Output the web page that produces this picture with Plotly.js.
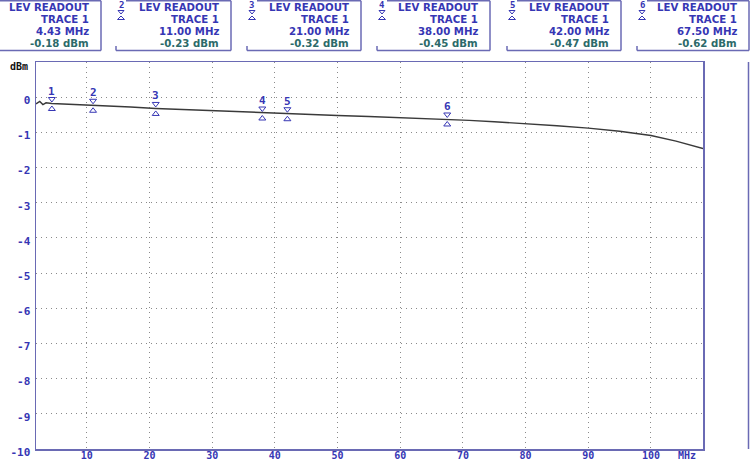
<!DOCTYPE html>
<html>
<head>
<meta charset="utf-8">
<script src="https://cdn.plot.ly/plotly-3.0.1.min.js"></script>
<style>
  html, body { margin: 0; padding: 0; background: #fff; }
  #plot { width: 750px; height: 465px; }
</style>
</head>
<body>
<div id="plot"></div>
<script>
// Trace (MHz / dBm).
const traceFreqs = [1.9, 2.5, 3.0, 3.5, 4.43, 6, 8, 11, 14, 17, 21, 25, 30, 34, 38, 42, 46, 50, 55, 60, 64, 67.5, 71, 75, 80, 85, 90, 95, 100, 104, 108.3];
const traceLevels = [-0.19, -0.12, -0.21, -0.16, -0.18, -0.19, -0.21, -0.23, -0.26, -0.28, -0.32, -0.35, -0.39, -0.42, -0.45, -0.47, -0.50, -0.52, -0.55, -0.58, -0.60, -0.62, -0.66, -0.70, -0.75, -0.81, -0.88, -0.97, -1.09, -1.25, -1.46];

// Level readout markers.
const markerFreqs = [4.43, 11.00, 21.00, 38.00, 42.00, 67.50];
const markerLevels = [-0.18, -0.23, -0.32, -0.45, -0.47, -0.62];

const xTickVals = [10, 20, 30, 40, 50, 60, 70, 80, 90, 100];
const xTickText = ['10', '20', '30', '40', '50', '60', '70', '80', '90', '100'];
const yTickVals = [0, -1, -2, -3, -4, -5, -6, -7, -8, -9, -10];
const yTickText = ['0', '-1', '-2', '-3', '-4', '-5', '-6', '-7', '-8', '-9', '-10'];

const mono = 'DejaVu Sans Mono';
const sans = 'DejaVu Sans';
const blue = '#3636b4';
const teal = '#2c6a6a';
const frame = '#6a6ab4';

// Pixel -> paper helpers for the readout boxes above the plot area.
const plotLeft = 36, plotRight = 703, plotTop = 62, plotBottom = 449;
const px = x => (x - plotLeft) / (plotRight - plotLeft);
const py = y => (plotBottom - y) / (plotBottom - plotTop);

const boxLeft = [0, 116, 247, 377, 507, 637];
const boxRight = [101, 231, 361, 490, 621, 749];
const rowY = [7.5, 19.5, 31.5, 43.3];

const shapes = [];
const annotations = [];
const frameLine = { color: frame, width: 1.5 };

function paperLine(x0, y0, x1, y1) {
    shapes.push({ type: 'line', xref: 'paper', yref: 'paper', x0: px(x0), y0: py(y0), x1: px(x1), y1: py(y1), line: frameLine });
}

markerFreqs.forEach((freq, i) => {
    const left = boxLeft[i];
    const right = boxRight[i];

    paperLine(i ? left + 10 : left, 0.8, right, 0.8);
    paperLine(right, 0.8, right, 50.5);
    paperLine(left, 50.5, right, 50.5);
    if (i) {
        paperLine(left, 46, left, 50.5);

        // Marker number with the little hourglass under it.
        const cx = left + 5;
        annotations.push({ xref: 'paper', yref: 'paper', x: px(cx), y: py(5), text: String(i + 1), showarrow: false,
            xanchor: 'center', yanchor: 'middle', borderpad: 0, font: { family: mono, size: 9, color: blue, weight: 'bold' } });
        shapes.push({ type: 'path', xref: 'paper', yref: 'paper', line: { color: blue, width: 1 },
            path: `M${px(cx - 3)},${py(10.5)} L${px(cx + 3)},${py(10.5)} L${px(cx)},${py(14)} Z` });
        shapes.push({ type: 'path', xref: 'paper', yref: 'paper', line: { color: blue, width: 1 },
            path: `M${px(cx - 3.5)},${py(19.5)} L${px(cx + 3.5)},${py(19.5)} L${px(cx)},${py(16)} Z` });
    }

    const lines = [
        ['LEV READOUT', blue],
        ['TRACE 1', blue],
        [`${freq.toFixed(2)} MHz`, blue],
        [`${markerLevels[i].toFixed(2)} dBm`, teal],
    ];
    lines.forEach(([text, color], row) => {
        annotations.push({ xref: 'paper', yref: 'paper', x: px(right - 11), y: py(rowY[row]), text, showarrow: false,
            xanchor: 'right', yanchor: 'middle', borderpad: 0, font: { family: sans, size: 10.2, color, weight: 'bold' } });
    });
});

// Far right screen edge line.
shapes.push({ type: 'line', xref: 'paper', yref: 'paper', x0: px(748.5), x1: px(748.5), y0: 0, y1: 1, line: frameLine });

// Markers on the trace: number, down triangle above, up triangle below.
markerFreqs.forEach((freq, i) => {
    const level = markerLevels[i];
    const tri = { type: 'path', xref: 'x', yref: 'y', xsizemode: 'pixel', ysizemode: 'pixel',
        xanchor: freq, yanchor: level, line: { color: blue, width: 1 } };

    shapes.push({ ...tri, path: 'M-3.5,6 L3.5,6 L0,1.5 Z' });
    shapes.push({ ...tri, path: 'M-3.5,-7 L3.5,-7 L0,-2.5 Z' });
    annotations.push({ xref: 'x', yref: 'y', x: freq, y: level, yshift: 12.5, text: String(i + 1), showarrow: false,
        xanchor: 'center', yanchor: 'middle', borderpad: 0, font: { family: mono, size: 11, color: blue, weight: 'bold' } });
});

annotations.push({ xref: 'paper', yref: 'paper', x: px(19), y: py(66), text: 'dBm', showarrow: false,
    xanchor: 'center', yanchor: 'middle', font: { family: mono, size: 10, color: '#111', weight: 'bold' } });
annotations.push({ xref: 'paper', yref: 'paper', x: px(687), y: py(455), text: 'MHz', showarrow: false,
    xanchor: 'center', yanchor: 'middle', borderpad: 0, font: { family: mono, size: 10, color: blue, weight: 'bold' } });

const data = [{
    type: 'scatter',
    mode: 'lines',
    x: traceFreqs,
    y: traceLevels,
    line: { color: '#3a3a3a', width: 1.4 },
    hoverinfo: 'x+y',
}];

const axisCommon = {
    showgrid: true,
    gridcolor: '#8a8a8a',
    griddash: '1px,4px',
    gridwidth: 1,
    showline: true,
    mirror: true,
    linecolor: frame,
    linewidth: 1.5,
    zeroline: false,
    ticks: '',
    tickmode: 'array',
    tickfont: { family: mono, size: 11, color: blue, weight: 'bold' },
};

const layout = {
    width: 750,
    height: 465,
    margin: { l: plotLeft, r: 750 - plotRight, t: plotTop, b: 465 - plotBottom },
    paper_bgcolor: '#fff',
    plot_bgcolor: '#fff',
    showlegend: false,
    xaxis: { ...axisCommon, range: [1.9, 108.3], tickvals: xTickVals, ticktext: xTickText,
        tickfont: { family: mono, size: 10, color: blue, weight: 'bold' }, ticklabelstandoff: -4 },
    yaxis: { ...axisCommon, range: [-10, 1], tickvals: yTickVals, ticktext: yTickText, ticklabelshift: 3, ticklabelstandoff: 2 },
    shapes,
    annotations,
};

Plotly.newPlot('plot', data, layout, { displayModeBar: false, staticPlot: true });
</script>
</body>
</html>
